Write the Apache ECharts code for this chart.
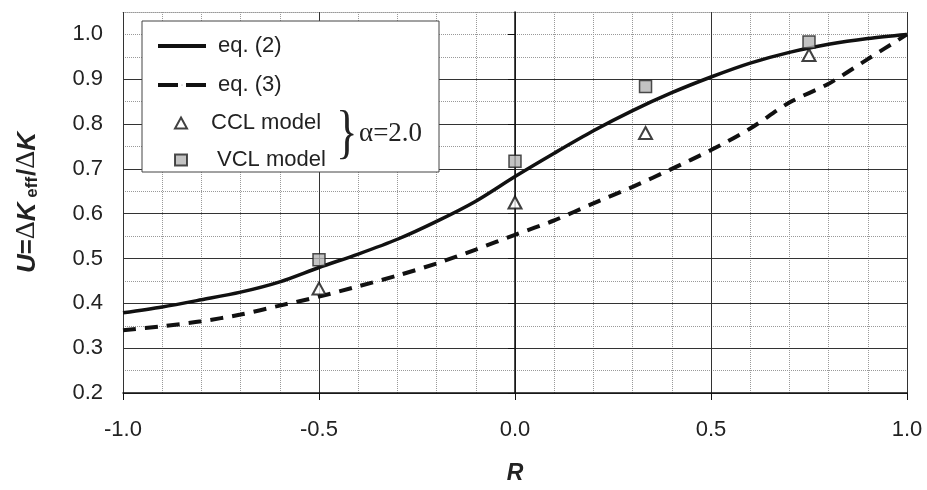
<!DOCTYPE html>
<html>
<head>
<meta charset="utf-8">
<script src="https://cdn.jsdelivr.net/npm/echarts@6/dist/echarts.min.js"></script>
<style>html,body{margin:0;padding:0;background:#fff}#c{width:927px;height:490px}</style>
</head>
<body>
<div id="c"></div>
<script>
// R values for the model curves
const rCurve = [-1.0,-0.9,-0.8,-0.7,-0.6,-0.5,-0.4,-0.3,-0.2,-0.1,0.0,0.1,0.2,0.3,0.4,0.5,0.6,0.7,0.8,0.9,1.0];
// eq. (2)
const eq2 = [0.379,0.392,0.408,0.425,0.448,0.480,0.510,0.543,0.583,0.628,0.683,0.735,0.785,0.830,0.870,0.905,0.936,0.960,0.978,0.991,1.000];
// eq. (3)
const eq3 = [0.340,0.349,0.360,0.375,0.395,0.415,0.438,0.462,0.489,0.520,0.553,0.585,0.623,0.660,0.700,0.742,0.790,0.848,0.890,0.945,1.000];
// model points
const rModel = [-0.5, 0.0, 0.333, 0.75];
const cclU = [0.433, 0.625, 0.780, 0.954];
const vclU = [0.497, 0.717, 0.884, 0.983];
const yTicks = [0.2,0.3,0.4,0.5,0.6,0.7,0.8,0.9,1.0];

const zip = (a,b) => a.map((v,i)=>[v,b[i]]);
const chart = echarts.init(document.getElementById('c'), null, {renderer:'canvas'});
const sans = 'Liberation Sans, Arial, sans-serif';
const serif = '"Liberation Serif", "Times New Roman", serif';
const dark = '#222';

chart.setOption({
  animation:false,
  backgroundColor:'#fff',
  grid:{left:123,right:20,top:12,bottom:89,containLabel:false},
  xAxis:[{
    type:'value', position:'bottom', min:-1, max:1, interval:0.5,
    axisLine:{show:true,lineStyle:{color:'#111',width:1.5}},
    axisTick:{show:true,inside:false,length:7,lineStyle:{color:'#111'}},
    axisLabel:{margin:26,fontFamily:sans,fontSize:22,color:dark,formatter:v=>v.toFixed(1)},
    splitLine:{show:true,lineStyle:{color:'#333',width:1}},
    name:'R', nameLocation:'middle', nameGap:69,
    nameTextStyle:{fontFamily:sans,fontSize:23,fontWeight:'bold',fontStyle:'italic',color:dark},
    z:2
  },{
    type:'value', position:'top', min:-1, max:1, interval:0.1,
    axisLine:{show:true,lineStyle:{color:'#999',type:'dotted',width:1}},
    axisTick:{show:false}, axisLabel:{show:false},
    splitLine:{show:true,lineStyle:{color:'#999',type:'dotted',width:1}},
    z:1
  }],
  yAxis:[{
    type:'value', position:'left', min:0.2, max:1.05, interval:0.1,
    axisLine:{show:true,lineStyle:{color:'#111',width:1.5}},
    axisTick:{show:true,length:7,lineStyle:{color:'#111'},customValues:yTicks},
    axisLabel:{margin:20,fontFamily:sans,fontSize:22,color:dark,customValues:yTicks,
      formatter:v=>(Math.abs(v*10-Math.round(v*10))<1e-6? v.toFixed(1):'')},
    splitLine:{show:true,showMaxLine:false,lineStyle:{color:'#333',width:1}},
    name:'{u|U}{b|=}{d|Δ}{u|K}{s| eff}{b|/}{d|Δ}{u|K}', nameLocation:'middle', nameGap:82, nameRotate:90,
    nameTextStyle:{color:dark,rich:{
      u:{fontFamily:sans,fontSize:26,fontWeight:'bold',fontStyle:'italic',color:dark,verticalAlign:'bottom'},
      b:{fontFamily:sans,fontSize:26,fontWeight:'bold',color:dark,verticalAlign:'bottom'},
      d:{fontFamily:serif,fontSize:28,color:dark,verticalAlign:'bottom'},
      s:{fontFamily:sans,fontSize:17,fontWeight:'bold',color:dark,verticalAlign:'bottom',padding:[0,1,0,0]}
    }},
    z:2
  },{
    type:'value', position:'right', min:0.2, max:1.05, interval:0.05,
    axisLine:{show:true,lineStyle:{color:'#999',type:'dotted',width:1}},
    axisTick:{show:false}, axisLabel:{show:false},
    splitLine:{show:true,lineStyle:{color:'#999',type:'dotted',width:1}},
    z:1
  }],
  legend:[{
    orient:'vertical', left:151, top:29, itemWidth:48, itemHeight:1, itemGap:15,
    textStyle:{fontFamily:sans,fontSize:22,color:dark,lineHeight:24,padding:[0,0,0,7]},
    lineStyle:{width:4},
    data:[
      {name:'eq. (2)'},
      {name:'eq. (3)', lineStyle:{width:4,type:[20,8]}}
    ],
    z:10
  },{
    orient:'vertical', left:169, top:106, itemWidth:12, itemHeight:11, itemGap:13,
    textStyle:{fontFamily:sans,fontSize:22,color:dark,lineHeight:24},
    data:[
      {name:'CCL model', textStyle:{padding:[0,0,0,19]}},
      {name:'VCL model', textStyle:{padding:[0,0,0,25]}}
    ],
    z:10
  }],
  graphic:[
    {type:'rect', shape:{x:142,y:21,width:297,height:151}, style:{fill:'#fff',stroke:'#444',lineWidth:1}, z:5},
    {type:'text', x:336, y:135, style:{text:'}',font:'60px '+serif,fill:dark,verticalAlign:'middle'}, scaleX:0.75, z:6},
    {type:'text', x:359, y:134, style:{text:'α=2.0',font:'27px '+serif,fill:dark,verticalAlign:'middle'}, z:6}
  ],
  series:[
    {name:'eq. (2)', type:'line', xAxisIndex:0, yAxisIndex:0, data:zip(rCurve,eq2), symbol:'none', smooth:0.3,
      lineStyle:{color:'#111',width:3.5}, itemStyle:{color:'#111'}, z:3},
    {name:'eq. (3)', type:'line', xAxisIndex:0, yAxisIndex:0, data:zip(rCurve,eq3), symbol:'none', smooth:0.3,
      lineStyle:{color:'#111',width:4,type:[13,9]}, itemStyle:{color:'#111'}, z:3},
    {name:'CCL model', type:'scatter', xAxisIndex:0, yAxisIndex:0, data:zip(rModel,cclU), symbol:'triangle', symbolSize:[13,12],
      itemStyle:{color:'#fff',borderColor:'#111',borderWidth:2}, z:4},
    {name:'VCL model', type:'scatter', xAxisIndex:0, yAxisIndex:0, data:zip(rModel,vclU), symbol:'rect', symbolSize:12,
      itemStyle:{color:'#b4b4b4',borderColor:'#222',borderWidth:1.5}, z:4}
  ]
});
</script>
</body>
</html>
